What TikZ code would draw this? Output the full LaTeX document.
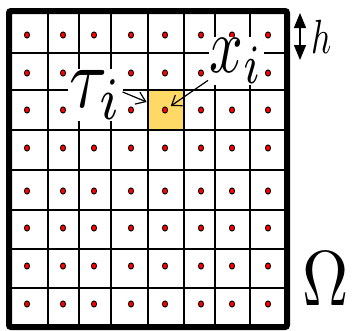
\documentclass[tikz,border=0pt]{standalone}
\usetikzlibrary{arrows.meta}
\begin{document}
\begin{tikzpicture}[x=1pt,y=-1pt,
    gridline/.style={line width=1.7pt},
    cellpt/.style={fill=red, draw=black, line width=0.9pt},
    lab/.style={fill=white, inner sep=0.12pt},
    ptr/.style={line width=1.2pt, -{Straight Barb[length=9pt,width=13pt]}},
    harrow/.style={line width=1.3pt, {Triangle[length=15pt,width=12pt]}-{Triangle[length=15pt,width=12pt]}}]
    \useasboundingbox (0,0) rectangle (352,330);
    \definecolor{colCell}{RGB}{255,217,102}

    % Inner grid lines
    \foreach \x in {48,79,111,148,184,215,250} {
        \draw[gridline] (\x,11) -- (\x,327);
    }
    \foreach \y in {53,90,130,170,210,249,288} {
        \draw[gridline] (9,\y) -- (287,\y);
    }

    % Marked cell
    \node[draw, fill=colCell, line width=2.8pt, inner sep=0,
          minimum width=36pt, minimum height=40pt] (cellT) at (166,110) {};

    % Cell centres
    \foreach \cx in {27,63,94,131,165,201,232,268} {
        \foreach \cy in {35,73,110,148,191,228,266,304} {
            \fill[cellpt] (\cx,\cy) ellipse (2.6 and 3.1);
        }
    }
    \coordinate (ptI) at (165,110);

    % Domain boundary
    \draw[line width=6pt, rounded corners=2pt] (9,11) rectangle (287,327);

    % Labels
    \node[lab, anchor=base west, xscale=6.9, yscale=8.6] (tau) at (67,107) {$\tau_i$};
    \node[lab, anchor=base west, xscale=5.9, yscale=7.9] (xlab) at (208,72) {$x_i$};
    \node[anchor=base west, xscale=3.5, yscale=4.8, inner sep=0] (hlab) at (311,53) {$h$};
    \node[anchor=base west, xscale=6.4, yscale=7.8, inner sep=0] (omega) at (301,305) {$\Omega$};

    % Pointers
    \draw[ptr] ([xshift=-2pt,yshift=3pt]tau.east) -- ([yshift=8pt]cellT.west);
    \draw[ptr, shorten >=7pt] ([yshift=6pt]xlab.south west) -- (ptI);

    % Mesh size
    \coordinate (hTop) at (300,13);
    \coordinate (hBot) at (300,60);
    \draw[harrow] (hTop) -- (hBot);
\end{tikzpicture}
\end{document}
